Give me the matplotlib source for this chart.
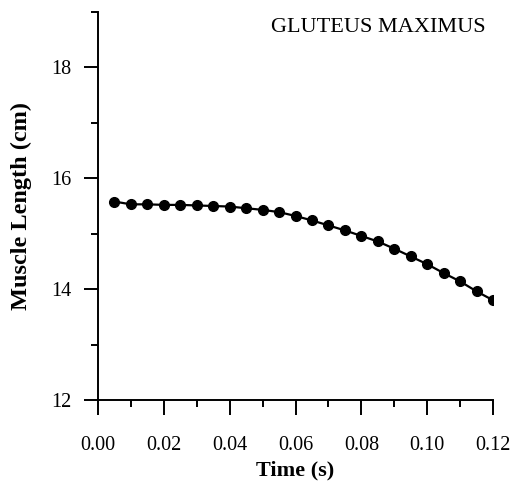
import numpy as np
import matplotlib
matplotlib.use("Agg")
import matplotlib.pyplot as plt
from matplotlib.ticker import MultipleLocator, FormatStrFormatter

# Dati
tempo = [0.005, 0.010, 0.015, 0.020, 0.025, 0.030, 0.035, 0.040,
         0.045, 0.050, 0.055, 0.060, 0.065, 0.070, 0.075, 0.080,
         0.085, 0.090, 0.095, 0.100, 0.105, 0.110, 0.115, 0.120]
lunghezza = [15.58, 15.53, 15.53, 15.52, 15.52, 15.51, 15.50, 15.49,
             15.46, 15.43, 15.39, 15.32, 15.24, 15.15, 15.06, 14.96,
             14.86, 14.73, 14.59, 14.45, 14.29, 14.14, 13.96, 13.80]

TITOLO = 'GLUTEUS MAXIMUS'
X_LABEL = 'Time (s)'
Y_LABEL = 'Muscle Length (cm)'

plt.rcParams['font.family'] = ['Liberation Serif', 'DejaVu Serif']

fig = plt.figure(figsize=(5.13, 4.87), dpi=100)
ax = fig.add_axes([98 / 513, 1 - 400 / 487, 395 / 513, 388 / 487])

ax.plot(tempo, lunghezza, color='black', linewidth=1.6, marker='o',
        markersize=7, markerfacecolor='black', markeredgecolor='black')

ax.set_xlim(0, 0.12)
ax.set_ylim(12, 19)

# Assi: solo sinistra e basso
ax.spines['top'].set_visible(False)
ax.spines['right'].set_visible(False)
for lato in ['left', 'bottom']:
    ax.spines[lato].set_linewidth(1.4)

ax.xaxis.set_major_locator(MultipleLocator(0.02))
ax.xaxis.set_minor_locator(MultipleLocator(0.01))
ax.xaxis.set_major_formatter(FormatStrFormatter('%.2f'))
ax.yaxis.set_major_locator(MultipleLocator(2))
ax.yaxis.set_minor_locator(MultipleLocator(1))

ax.tick_params(axis='x', which='major', length=11, width=1.4, pad=15, labelsize=14.5)
ax.tick_params(axis='x', which='minor', length=5, width=1.4)
ax.tick_params(axis='y', which='major', length=10, width=1.4, pad=9, labelsize=14.5)
ax.tick_params(axis='y', which='minor', length=5, width=1.4)

ax.set_xlabel(X_LABEL, fontsize=16, fontweight='bold', labelpad=4)
ax.set_ylabel(Y_LABEL, fontsize=17.5, fontweight='bold', labelpad=14)

fig.text(378 / 513, 1 - 27 / 487, TITOLO, fontsize=16, ha='center', va='center')

fig.savefig('out.png', dpi=100)
